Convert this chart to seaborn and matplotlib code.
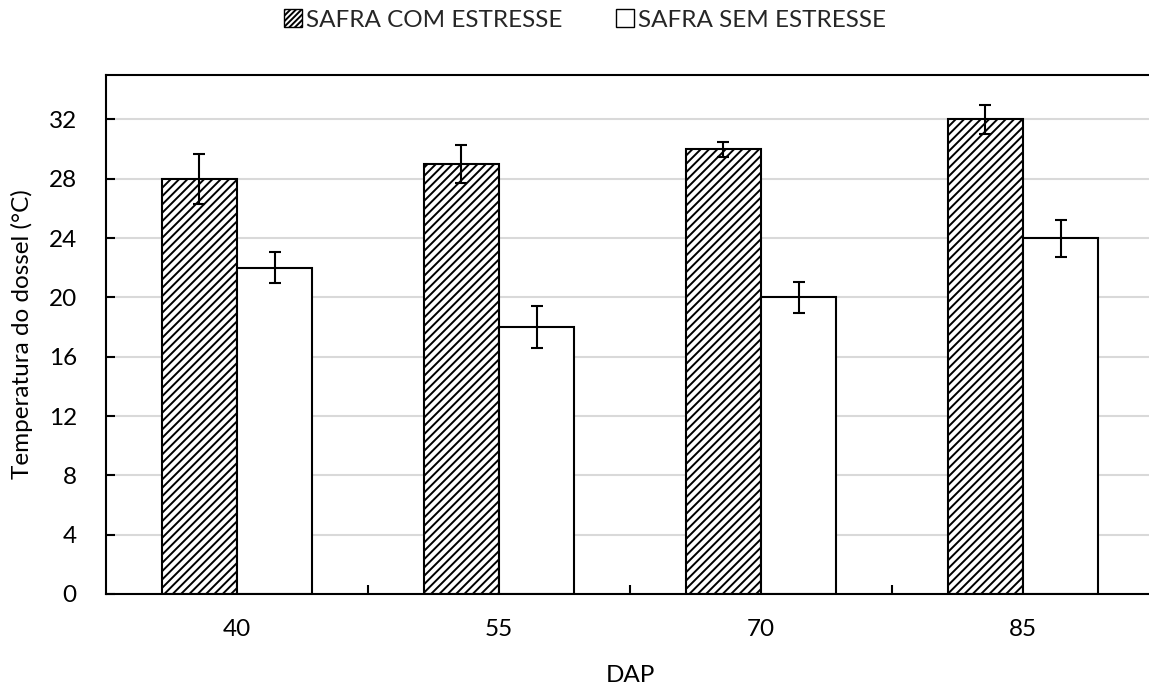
import numpy as np
import pandas as pd
import seaborn as sns
import matplotlib.pyplot as plt
from matplotlib.patches import Patch

# Canopy temperature by days after planting (DAP), two seasons
dap = ["40", "55", "70", "85"]
series = ["SAFRA COM ESTRESSE", "SAFRA SEM ESTRESSE"]
temp_com = [28, 29, 30, 32]
temp_sem = [22, 18, 20, 24]
err_com = [1.7, 1.3, 0.5, 0.95]
err_sem = [1.05, 1.4, 1.05, 1.25]
y_ticks = [0, 4, 8, 12, 16, 20, 24, 28, 32]

df = pd.DataFrame({
    "DAP": dap * 2,
    "temp": temp_com + temp_sem,
    "serie": [series[0]] * len(dap) + [series[1]] * len(dap),
})

FS = 17.5

sns.set_theme(style="white")
plt.rcParams["font.family"] = ["Lato", "DejaVu Sans"]
plt.rcParams["hatch.linewidth"] = 1.4

fig = plt.figure(figsize=(11.49, 6.90), dpi=100)
ax = fig.add_axes([106 / 1149, 96 / 690, 1048 / 1149, 519 / 690])

sns.barplot(data=df, x="DAP", y="temp", hue="serie", hue_order=series,
            order=dap, palette=["white", "white"], saturation=1,
            width=0.573, edgecolor="black", linewidth=1.5,
            errorbar=None, legend=False, ax=ax)

for bar in ax.containers[0]:
    bar.set_hatch("////")

# error bars on top of each bar
for cont, vals, errs in zip(ax.containers, [temp_com, temp_sem], [err_com, err_sem]):
    xs = [b.get_x() + b.get_width() / 2 for b in cont]
    ax.errorbar(xs, vals, yerr=errs, fmt="none", ecolor="black",
                elinewidth=1.5, capsize=4.3, capthick=1.5, zorder=5)

ax.set_xlim(-0.5, 3.5)
ax.set_ylim(0, 35)
ax.set_yticks(y_ticks)
ax.set_yticklabels([str(v) for v in y_ticks])
ax.yaxis.grid(True, color="#d9d9d9", linewidth=1.5)
ax.xaxis.grid(False)
ax.set_axisbelow(True)

ax.set_xticks([0.5, 1.5, 2.5], minor=True)
ax.tick_params(axis="y", left=True, direction="in", length=6.5, width=1.5,
               pad=21, labelsize=FS, color="black", labelcolor="black")
ax.tick_params(axis="x", which="major", bottom=True, length=0, pad=18,
               labelsize=FS, labelcolor="black")
ax.tick_params(axis="x", which="minor", bottom=True, direction="in",
               length=6.5, width=1.5, color="black")

for side in ["top", "left", "bottom"]:
    ax.spines[side].set_color("black")
    ax.spines[side].set_linewidth(1.5)
ax.spines["right"].set_visible(False)

ax.set_ylabel("Temperatura do dossel (°C)", fontsize=FS, color="black", va="center")
ax.yaxis.set_label_coords(-84 / 1048, 0.5)
ax.set_xlabel("DAP", fontsize=FS, color="black", va="center")
ax.xaxis.set_label_coords(0.5, -81 / 519)

handles = [Patch(facecolor="white", edgecolor="black", hatch="//////", linewidth=1),
           Patch(facecolor="white", edgecolor="black", linewidth=1)]
fig.legend(handles=handles, labels=series, loc="center",
           bbox_to_anchor=(585 / 1149, 1 - 20 / 690), ncol=2, frameon=False,
           fontsize=FS, handlelength=0.75, handleheight=0.75,
           handletextpad=0.15, columnspacing=2.2)

fig.savefig("out.png", dpi=100)
